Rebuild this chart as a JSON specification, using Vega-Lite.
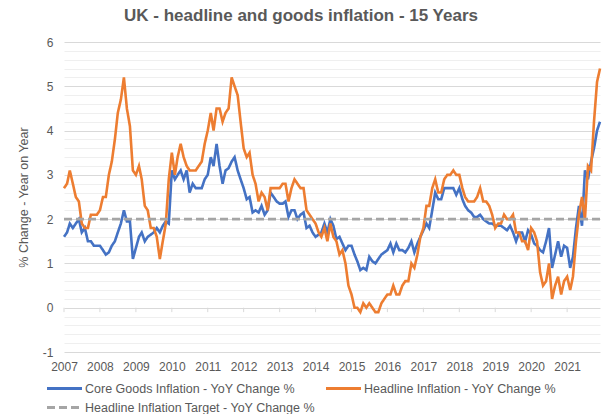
{
"$schema":"https://vega.github.io/schema/vega-lite/v6.json",
"width":536,"height":310,
"autosize":{"type":"none"},
"padding":{"left":64,"top":42,"right":2,"bottom":62},
"background":"white",
"config":{"view":{"stroke":null},"font":"Liberation Sans","axis":{"labelOverlap":false},"axisX":{"labelOverlap":false}},
"title":{"text":"UK - headline and goods inflation - 15 Years","fontSize":17,"fontWeight":"bold","color":"#595959","anchor":"middle","dx":-31,"offset":11,"font":"Liberation Sans"},
"data":{"values":[
{"d":"2007-01-01","c":1.6,"h":2.7,"t":2},{"d":"2007-02-01","c":1.7,"h":2.8,"t":2},{"d":"2007-03-01","c":1.9,"h":3.1,"t":2},{"d":"2007-04-01","c":1.8,"h":2.8,"t":2},{"d":"2007-05-01","c":1.9,"h":2.5,"t":2},{"d":"2007-06-01","c":2.0,"h":2.4,"t":2},{"d":"2007-07-01","c":1.7,"h":1.9,"t":2},{"d":"2007-08-01","c":1.8,"h":1.8,"t":2},{"d":"2007-09-01","c":1.5,"h":1.8,"t":2},{"d":"2007-10-01","c":1.5,"h":2.1,"t":2},{"d":"2007-11-01","c":1.4,"h":2.1,"t":2},{"d":"2007-12-01","c":1.4,"h":2.1,"t":2},
{"d":"2008-01-01","c":1.4,"h":2.2,"t":2},{"d":"2008-02-01","c":1.3,"h":2.5,"t":2},{"d":"2008-03-01","c":1.2,"h":2.5,"t":2},{"d":"2008-04-01","c":1.25,"h":3.0,"t":2},{"d":"2008-05-01","c":1.4,"h":3.3,"t":2},{"d":"2008-06-01","c":1.5,"h":3.8,"t":2},{"d":"2008-07-01","c":1.7,"h":4.4,"t":2},{"d":"2008-08-01","c":1.9,"h":4.7,"t":2},{"d":"2008-09-01","c":2.2,"h":5.2,"t":2},{"d":"2008-10-01","c":1.95,"h":4.5,"t":2},{"d":"2008-11-01","c":1.95,"h":4.1,"t":2},{"d":"2008-12-01","c":1.1,"h":3.1,"t":2},
{"d":"2009-01-01","c":1.35,"h":3.0,"t":2},{"d":"2009-02-01","c":1.6,"h":3.2,"t":2},{"d":"2009-03-01","c":1.7,"h":2.9,"t":2},{"d":"2009-04-01","c":1.5,"h":2.3,"t":2},{"d":"2009-05-01","c":1.6,"h":2.2,"t":2},{"d":"2009-06-01","c":1.65,"h":1.8,"t":2},{"d":"2009-07-01","c":1.7,"h":1.8,"t":2},{"d":"2009-08-01","c":1.8,"h":1.6,"t":2},{"d":"2009-09-01","c":1.7,"h":1.1,"t":2},{"d":"2009-10-01","c":1.85,"h":1.5,"t":2},{"d":"2009-11-01","c":1.95,"h":1.9,"t":2},{"d":"2009-12-01","c":1.9,"h":2.9,"t":2},
{"d":"2010-01-01","c":3.1,"h":3.5,"t":2},{"d":"2010-02-01","c":2.9,"h":3.0,"t":2},{"d":"2010-03-01","c":3.0,"h":3.4,"t":2},{"d":"2010-04-01","c":3.1,"h":3.7,"t":2},{"d":"2010-05-01","c":2.9,"h":3.4,"t":2},{"d":"2010-06-01","c":3.1,"h":3.2,"t":2},{"d":"2010-07-01","c":2.6,"h":3.1,"t":2},{"d":"2010-08-01","c":2.8,"h":3.1,"t":2},{"d":"2010-09-01","c":2.7,"h":3.1,"t":2},{"d":"2010-10-01","c":2.7,"h":3.2,"t":2},{"d":"2010-11-01","c":2.7,"h":3.3,"t":2},{"d":"2010-12-01","c":2.9,"h":3.7,"t":2},
{"d":"2011-01-01","c":3.0,"h":4.0,"t":2},{"d":"2011-02-01","c":3.4,"h":4.4,"t":2},{"d":"2011-03-01","c":3.2,"h":4.0,"t":2},{"d":"2011-04-01","c":3.7,"h":4.5,"t":2},{"d":"2011-05-01","c":3.2,"h":4.5,"t":2},{"d":"2011-06-01","c":2.8,"h":4.2,"t":2},{"d":"2011-07-01","c":3.1,"h":4.4,"t":2},{"d":"2011-08-01","c":3.15,"h":4.5,"t":2},{"d":"2011-09-01","c":3.3,"h":5.2,"t":2},{"d":"2011-10-01","c":3.4,"h":5.0,"t":2},{"d":"2011-11-01","c":3.1,"h":4.8,"t":2},{"d":"2011-12-01","c":2.9,"h":4.2,"t":2},
{"d":"2012-01-01","c":2.7,"h":3.6,"t":2},{"d":"2012-02-01","c":2.45,"h":3.4,"t":2},{"d":"2012-03-01","c":2.5,"h":3.5,"t":2},{"d":"2012-04-01","c":2.15,"h":3.0,"t":2},{"d":"2012-05-01","c":2.2,"h":2.8,"t":2},{"d":"2012-06-01","c":2.15,"h":2.4,"t":2},{"d":"2012-07-01","c":2.3,"h":2.6,"t":2},{"d":"2012-08-01","c":2.1,"h":2.5,"t":2},{"d":"2012-09-01","c":2.2,"h":2.2,"t":2},{"d":"2012-10-01","c":2.6,"h":2.7,"t":2},{"d":"2012-11-01","c":2.5,"h":2.7,"t":2},{"d":"2012-12-01","c":2.4,"h":2.7,"t":2},
{"d":"2013-01-01","c":2.35,"h":2.7,"t":2},{"d":"2013-02-01","c":2.35,"h":2.8,"t":2},{"d":"2013-03-01","c":2.4,"h":2.8,"t":2},{"d":"2013-04-01","c":2.05,"h":2.4,"t":2},{"d":"2013-05-01","c":2.2,"h":2.7,"t":2},{"d":"2013-06-01","c":2.2,"h":2.9,"t":2},{"d":"2013-07-01","c":2.0,"h":2.8,"t":2},{"d":"2013-08-01","c":2.1,"h":2.7,"t":2},{"d":"2013-09-01","c":2.15,"h":2.7,"t":2},{"d":"2013-10-01","c":1.8,"h":2.2,"t":2},{"d":"2013-11-01","c":1.85,"h":2.1,"t":2},{"d":"2013-12-01","c":1.7,"h":2.0,"t":2},
{"d":"2014-01-01","c":1.6,"h":1.9,"t":2},{"d":"2014-02-01","c":1.65,"h":1.7,"t":2},{"d":"2014-03-01","c":1.7,"h":1.6,"t":2},{"d":"2014-04-01","c":1.9,"h":1.8,"t":2},{"d":"2014-05-01","c":1.7,"h":1.5,"t":2},{"d":"2014-06-01","c":2.0,"h":1.9,"t":2},{"d":"2014-07-01","c":1.85,"h":1.6,"t":2},{"d":"2014-08-01","c":1.55,"h":1.5,"t":2},{"d":"2014-09-01","c":1.6,"h":1.2,"t":2},{"d":"2014-10-01","c":1.45,"h":1.3,"t":2},{"d":"2014-11-01","c":1.3,"h":1.0,"t":2},{"d":"2014-12-01","c":1.4,"h":0.5,"t":2},
{"d":"2015-01-01","c":1.4,"h":0.3,"t":2},{"d":"2015-02-01","c":1.2,"h":0.0,"t":2},{"d":"2015-03-01","c":1.05,"h":0.0,"t":2},{"d":"2015-04-01","c":0.85,"h":-0.1,"t":2},{"d":"2015-05-01","c":0.9,"h":0.1,"t":2},{"d":"2015-06-01","c":0.85,"h":0.0,"t":2},{"d":"2015-07-01","c":1.15,"h":0.1,"t":2},{"d":"2015-08-01","c":1.05,"h":0.0,"t":2},{"d":"2015-09-01","c":1.0,"h":-0.1,"t":2},{"d":"2015-10-01","c":1.1,"h":-0.1,"t":2},{"d":"2015-11-01","c":1.2,"h":0.1,"t":2},{"d":"2015-12-01","c":1.25,"h":0.2,"t":2},
{"d":"2016-01-01","c":1.3,"h":0.3,"t":2},{"d":"2016-02-01","c":1.45,"h":0.3,"t":2},{"d":"2016-03-01","c":1.25,"h":0.5,"t":2},{"d":"2016-04-01","c":1.45,"h":0.3,"t":2},{"d":"2016-05-01","c":1.3,"h":0.3,"t":2},{"d":"2016-06-01","c":1.3,"h":0.5,"t":2},{"d":"2016-07-01","c":1.25,"h":0.6,"t":2},{"d":"2016-08-01","c":1.35,"h":0.6,"t":2},{"d":"2016-09-01","c":1.5,"h":1.0,"t":2},{"d":"2016-10-01","c":1.25,"h":0.9,"t":2},{"d":"2016-11-01","c":1.45,"h":1.2,"t":2},{"d":"2016-12-01","c":1.6,"h":1.6,"t":2},
{"d":"2017-01-01","c":1.75,"h":1.8,"t":2},{"d":"2017-02-01","c":1.9,"h":2.3,"t":2},{"d":"2017-03-01","c":1.8,"h":2.3,"t":2},{"d":"2017-04-01","c":2.2,"h":2.7,"t":2},{"d":"2017-05-01","c":2.6,"h":2.9,"t":2},{"d":"2017-06-01","c":2.45,"h":2.6,"t":2},{"d":"2017-07-01","c":2.45,"h":2.6,"t":2},{"d":"2017-08-01","c":2.7,"h":2.9,"t":2},{"d":"2017-09-01","c":2.7,"h":3.0,"t":2},{"d":"2017-10-01","c":2.7,"h":3.0,"t":2},{"d":"2017-11-01","c":2.7,"h":3.1,"t":2},{"d":"2017-12-01","c":2.55,"h":3.0,"t":2},
{"d":"2018-01-01","c":2.7,"h":3.0,"t":2},{"d":"2018-02-01","c":2.45,"h":2.7,"t":2},{"d":"2018-03-01","c":2.3,"h":2.5,"t":2},{"d":"2018-04-01","c":2.2,"h":2.4,"t":2},{"d":"2018-05-01","c":2.15,"h":2.4,"t":2},{"d":"2018-06-01","c":2.05,"h":2.4,"t":2},{"d":"2018-07-01","c":2.05,"h":2.5,"t":2},{"d":"2018-08-01","c":2.1,"h":2.7,"t":2},{"d":"2018-09-01","c":2.0,"h":2.4,"t":2},{"d":"2018-10-01","c":1.95,"h":2.4,"t":2},{"d":"2018-11-01","c":1.9,"h":2.3,"t":2},{"d":"2018-12-01","c":1.9,"h":2.1,"t":2},
{"d":"2019-01-01","c":1.85,"h":1.8,"t":2},{"d":"2019-02-01","c":1.85,"h":1.9,"t":2},{"d":"2019-03-01","c":1.85,"h":1.9,"t":2},{"d":"2019-04-01","c":1.8,"h":2.1,"t":2},{"d":"2019-05-01","c":1.75,"h":2.0,"t":2},{"d":"2019-06-01","c":1.85,"h":2.0,"t":2},{"d":"2019-07-01","c":1.7,"h":2.1,"t":2},{"d":"2019-08-01","c":1.5,"h":1.7,"t":2},{"d":"2019-09-01","c":1.7,"h":1.7,"t":2},{"d":"2019-10-01","c":1.7,"h":1.5,"t":2},{"d":"2019-11-01","c":1.5,"h":1.5,"t":2},{"d":"2019-12-01","c":1.75,"h":1.3,"t":2},
{"d":"2020-01-01","c":1.65,"h":1.8,"t":2},{"d":"2020-02-01","c":1.45,"h":1.7,"t":2},{"d":"2020-03-01","c":1.4,"h":1.5,"t":2},{"d":"2020-04-01","c":1.3,"h":0.8,"t":2},{"d":"2020-05-01","c":1.25,"h":0.5,"t":2},{"d":"2020-06-01","c":1.5,"h":0.6,"t":2},{"d":"2020-07-01","c":1.8,"h":1.0,"t":2},{"d":"2020-08-01","c":0.9,"h":0.2,"t":2},{"d":"2020-09-01","c":1.2,"h":0.5,"t":2},{"d":"2020-10-01","c":1.5,"h":0.7,"t":2},{"d":"2020-11-01","c":1.15,"h":0.3,"t":2},{"d":"2020-12-01","c":1.4,"h":0.6,"t":2},
{"d":"2021-01-01","c":1.35,"h":0.7,"t":2},{"d":"2021-02-01","c":0.9,"h":0.4,"t":2},{"d":"2021-03-01","c":1.15,"h":0.7,"t":2},{"d":"2021-04-01","c":1.8,"h":1.5,"t":2},{"d":"2021-05-01","c":2.3,"h":2.1,"t":2},{"d":"2021-06-01","c":1.85,"h":2.5,"t":2},{"d":"2021-07-01","c":3.1,"h":2.0,"t":2},{"d":"2021-08-01","c":2.9,"h":3.2,"t":2},{"d":"2021-09-01","c":3.3,"h":3.1,"t":2},{"d":"2021-10-01","c":3.6,"h":4.2,"t":2},{"d":"2021-11-01","c":4.0,"h":5.1,"t":2},{"d":"2021-12-01","c":4.2,"h":5.4,"t":2}
]},
"transform":[{"fold":["c","h","t"],"as":["s","v"]}],
"layer":[
 {"transform":[{"filter":"datum.s == 't' && utcmonth(datum.d) == 0"}],
  "mark":{"type":"rule","color":"#d9d9d9","strokeWidth":1},
  "encoding":{
   "x":{"field":"d","type":"temporal","scale":{"type":"utc","domain":[{"year":2007,"month":1,"date":1,"utc":true},{"year":2021,"month":12,"date":1,"utc":true}]},
        "axis":{"orient":"bottom","values":[1167609600000,1199145600000,1230768000000,1262304000000,1293840000000,1325376000000,1356998400000,1388534400000,1420070400000,1451606400000,1483228800000,1514764800000,1546300800000,1577836800000,1609459200000],
        "labelExpr":"utcFormat(datum.value, '%Y')","grid":false,"domain":false,"ticks":false,"labelColor":"#595959","labelFontSize":12,"labelPadding":9,"labelFlush":false,"labelOverlap":false,"labelSeparation":0,"title":null}},
   "y":{"datum":0,"type":"quantitative","scale":{"domain":[-1,6],"nice":false,"zero":false},
        "axis":{"orient":"right","values":[-0.8,-0.6,-0.4,-0.2,0.2,0.4,0.6,0.8,1.2,1.4,1.6,1.8,2.2,2.4,2.6,2.8,3.2,3.4,3.6,3.8,4.2,4.4,4.6,4.8,5.2,5.4,5.6,5.8],"grid":true,"gridColor":"#efefef","gridWidth":1,"labels":false,"ticks":false,"domain":false,"title":null}},
   "y2":{"datum":-0.1}
  }},
 {"mark":{"type":"line","strokeWidth":2.6},
  "encoding":{
   "x":{"field":"d","type":"temporal",
        "axis":{"orient":"bottom","values":[1167609600000,1199145600000,1230768000000,1262304000000,1293840000000,1325376000000,1356998400000,1388534400000,1420070400000,1451606400000,1483228800000,1514764800000,1546300800000,1577836800000,1609459200000],
        "labelExpr":"utcFormat(datum.value, '%Y')","grid":false,"domain":false,"ticks":false,"labelColor":"#595959","labelFontSize":12,"labelPadding":9,"labelFlush":false,"labelOverlap":false,"labelSeparation":0,"title":null}},
   "y":{"field":"v","type":"quantitative",
        "axis":{"orient":"left","values":[-1,0,1,2,3,4,5,6],"labelExpr":"'' + datum.value","grid":true,"gridColor":"#d9d9d9","gridWidth":1,"domain":false,"ticks":false,"labelColor":"#595959","labelFontSize":12,"labelPadding":11,"title":"% Change - Year on Year","titleColor":"#595959","titleFontSize":12.5,"titleFontWeight":"normal","titlePadding":12}},
   "color":{"field":"s","type":"nominal","scale":{"domain":["c","h","t"],"range":["#4472C4","#ED7D31","#A5A5A5"]},
        "legend":{"orient":"none","legendX":-8,"legendY":338,"direction":"horizontal","columns":2,"title":null,"symbolType":"M-2.5,0H2.5","symbolSize":196,"symbolStrokeWidth":3,"labelFontSize":12.5,"labelColor":"#595959","labelOffset":12,"labelLimit":400,"columnPadding":4,"rowPadding":4,
        "labelExpr":"datum.label == 'c' ? 'Core Goods Inflation - YoY Change %' : datum.label == 'h' ? 'Headline Inflation - YoY Change %' : 'Headline Inflation Target - YoY Change %'"}},
   "strokeDash":{"field":"s","type":"nominal","scale":{"domain":["c","h","t"],"range":[[1,0],[1,0],[8,4]]}}
  }}
],
"resolve":{"axis":{"y":"independent"}}
}
